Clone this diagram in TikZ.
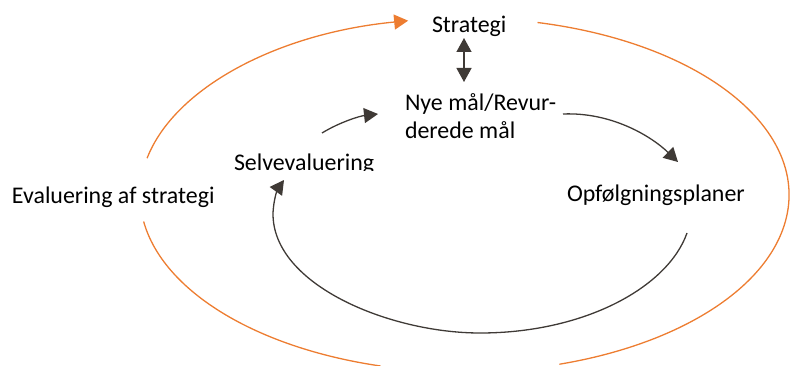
\documentclass[tikz,border=0pt]{standalone}
\usepackage{fontspec}
\setmainfont{Carlito}
\usetikzlibrary{arrows.meta}
\definecolor{orng}{HTML}{ED7D31}
\definecolor{drk}{HTML}{3F3A36}
\tikzset{
  lbl/.style={inner sep=0pt, outer sep=0pt, font=\fontsize{23.9}{27.5}\selectfont, text=black},
  orangeline/.style={draw=orng, line width=1.3pt},
  darkline/.style={draw=drk, line width=1.3pt},
  tri/.style={-{Triangle[length=14pt,width=15pt]}},
  bitri/.style={{Triangle[length=14pt,width=15pt]}-{Triangle[length=14pt,width=15pt]}},
}
\begin{document}
\begin{tikzpicture}[x=1pt,y=1pt]
\useasboundingbox (0,0) rectangle (790,365);
% text nodes
\node[lbl, anchor=base west] (strat) at (432,332) {Strategi};
\node[lbl, anchor=base west, align=left] (nye) at (405,226.7) {Nye mål/Revur-\\derede mål};
\begin{scope}
  \clip (220,194.5) rectangle (400,230);
  \node[lbl, anchor=base west] (selv) at (234,195) {Selvevaluering};
\end{scope}
\node[lbl, anchor=base west] (opf) at (567,164) {Opfølgningsplaner};
\node[lbl, anchor=base west] (eval) at (12,161.5) {Evaluering af strategi};
% orange cycle
\coordinate (oA) at (147.1,206.8);
\coordinate (oB) at (537.5,342.5);
\coordinate (oC) at (380.5,-1);
\draw[orangeline, tri] (oA) arc[start angle=168, end angle=100, x radius=324.5pt, y radius=177pt];
\draw[orangeline] (oB) arc[start angle=77, end angle=-73, x radius=324.5pt, y radius=177pt];
\draw[orangeline] (oC) arc[start angle=255, end angle=188.6, x radius=324.5pt, y radius=177pt];
% dark connectors
\coordinate (dA) at (464,327);
\coordinate (dB) at (464,283);
\draw[darkline, bitri] (dA) -- (dB);
\coordinate (sA) at (322,232);
\coordinate (sB) at (378,251);
\draw[darkline, tri] (sA) .. controls (340,243) and (360,249) .. (sB);
\coordinate (nA) at (563,251);
\coordinate (nB) at (678,203);
\draw[darkline, tri] (nA) .. controls (610,253) and (650,230) .. (nB);
\coordinate (lA) at (687,132);
\coordinate (lB) at (480,32);
\coordinate (lC) at (273,152);
\coordinate (lD) at (284,185);
\draw[darkline, tri] (lA) .. controls (668,78) and (585,32) .. (lB)
  .. controls (390,32) and (272,80) .. (lC)
  .. controls (274,170) and (279,178) .. (lD);
\end{tikzpicture}
\end{document}
